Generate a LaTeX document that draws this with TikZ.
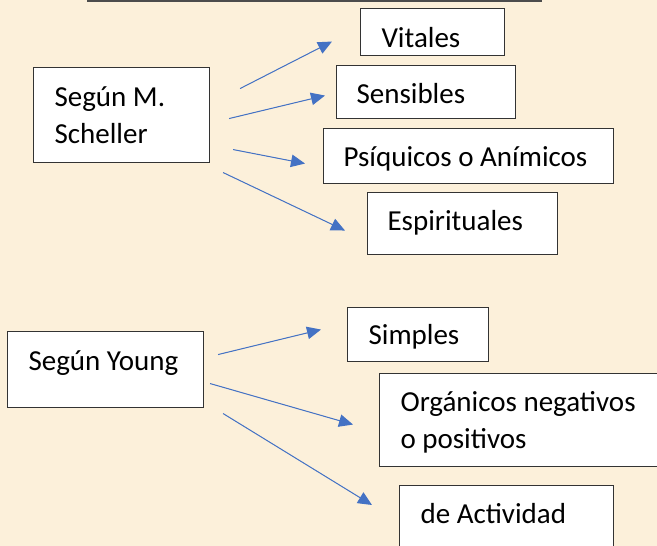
\documentclass[tikz,border=0pt]{standalone}
\usepackage{fontspec}
\setmainfont{Carlito}
\usepackage{tikz}
\usetikzlibrary{arrows.meta}
\definecolor{papel}{HTML}{FCF0DA}
\definecolor{flecha}{HTML}{4472C4}

\begin{document}
\begin{tikzpicture}[x=1pt,y=-1pt,>={Triangle[length=14pt,width=12.5pt]}]
    \tikzstyle{caja}=[draw=black!80,line width=1.1pt,fill=white,anchor=north west,
      font=\fontsize{29}{37}\selectfont,align=left,inner ysep=0pt,inner xsep=21pt,
      execute at begin node={\spaceskip=0pt\xspaceskip=0pt\frenchspacing\hyphenpenalty=10000}]
    \tikzstyle{flecha}=[->,draw=flecha,fill=flecha,line width=1pt]
    \fill[papel] (0,0) rectangle (657,546);
    \useasboundingbox (0,0) rectangle (657,546);
    % caja superior, cortada por el borde
    \node[draw=black!70,line width=1.6pt,fill=papel,anchor=south west,inner sep=0pt,
      minimum width=453pt,minimum height=60pt] (arriba) at (87,1.5) {};
    % Scheller
    \node[caja,text width=134pt,text height=39pt,text depth=56pt] (sch) at (33,67)
      {Según M.\\Scheller};
    \node[caja,text width=102pt,text height=38.7pt,text depth=8.3pt] (vit) at (360,8) {Vitales};
    \node[caja,inner xsep=20pt,text width=139pt,text height=38pt,text depth=15pt] (sen) at (336,65) {Sensibles};
    \node[caja,inner xsep=20pt,text width=250pt,text height=38pt,text depth=17pt] (psi) at (323,128)
      {Psíquicos o Anímicos};
    \node[caja,inner xsep=20pt,text width=150pt,text height=38pt,text depth=24pt] (esp) at (367,192)
      {Espirituales};
    % Young
    \node[caja,text width=154pt,text height=39pt,text depth=37pt] (you) at (7,331) {Según~Young};
    \node[caja,text width=99pt,text height=37pt,text depth=17pt] (sim) at (347,307) {Simples};
    \node[caja,text width=258pt,text height=38pt,text depth=55pt] (org) at (379,373)
      {Orgánicos negativos\\o positivos};
    \node[caja,text width=172pt,text height=38pt,text depth=45pt] (act) at (399,485) {de Actividad};
    % flechas
    \draw[flecha] ([shift={(30,-26.5)}]sch.east) -- ([shift={(-28,9.5)}]vit.west);
    \draw[flecha] ([shift={(19,3.5)}]sch.east) -- ([shift={(-11,3.5)}]sen.west);
    \draw[flecha] ([shift={(23,34.5)}]sch.east) -- ([shift={(-18,7.5)}]psi.west);
    \draw[flecha] ([shift={(13,57.5)}]sch.east) -- ([shift={(-22,7)}]esp.west);
    \draw[flecha] ([shift={(14,-15)}]you.east) -- ([shift={(-26,-5)}]sim.west);
    \draw[flecha] ([shift={(6,14)}]you.east) -- ([shift={(-26,4.5)}]org.west);
    \draw[flecha] ([shift={(19,44)}]you.east) -- ([shift={(-27,20)}]act.north west);
\end{tikzpicture}
\end{document}
